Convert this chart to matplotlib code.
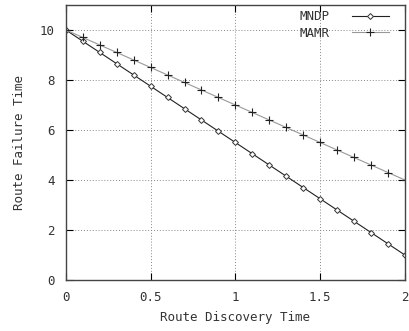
import matplotlib
matplotlib.use("Agg")
import matplotlib.pyplot as plt

# discovery time samples
x_vals = [0.0, 0.1, 0.2, 0.3, 0.4, 0.5, 0.6, 0.7, 0.8, 0.9, 1.0,
          1.1, 1.2, 1.3, 1.4, 1.5, 1.6, 1.7, 1.8, 1.9, 2.0]
mndp = [10.0, 9.55, 9.1, 8.65, 8.2, 7.75, 7.3, 6.85, 6.4, 5.95, 5.5,
        5.05, 4.6, 4.15, 3.7, 3.25, 2.8, 2.35, 1.9, 1.45, 1.0]
mamr = [10.0, 9.7, 9.4, 9.1, 8.8, 8.5, 8.2, 7.9, 7.6, 7.3, 7.0,
        6.7, 6.4, 6.1, 5.8, 5.5, 5.2, 4.9, 4.6, 4.3, 4.0]

x_ticks = [0, 0.5, 1, 1.5, 2]
x_tick_labels = ["0", "0.5", "1", "1.5", "2"]
y_ticks = [0, 2, 4, 6, 8, 10]

plt.rcParams['font.family'] = ['DejaVu Sans Mono']
txt = '#333333'

fig = plt.figure(figsize=(4.09, 3.31), dpi=100)
ax = fig.add_axes([0.161, 0.154, 0.829, 0.831])

ax.plot(x_vals, mndp, color='#222222', lw=0.8, marker='D', ms=3.0,
        mfc='white', mec='#333333', mew=0.7, label='MNDP')
ax.plot(x_vals, mamr, color='#999999', lw=0.8, marker='+', ms=5.5,
        mec='#222222', mew=0.8, label='MAMR')

ax.set_xlim(0, 2)
ax.set_ylim(0, 11)
ax.set_xticks(x_ticks)
ax.set_xticklabels(x_tick_labels)
ax.set_yticks(y_ticks)

ax.grid(True, linestyle=(0, (1, 2)), color='#888888', lw=0.7)
ax.tick_params(direction='in', top=True, right=True, length=5,
               labelsize=9, labelcolor=txt, pad=8)
for s in ax.spines.values():
    s.set_color('#444444')
    s.set_linewidth(1.0)

ax.set_xlabel("Route Discovery Time", fontsize=9, color=txt, labelpad=5)
ax.set_ylabel("Route Failure Time", fontsize=9, color=txt, labelpad=10)

leg = ax.legend(loc='upper right', bbox_to_anchor=(0.968, 1.0),
                frameon=False, markerfirst=False,
                fontsize=9, handlelength=3.0, labelspacing=0.3,
                borderaxespad=0.0, handletextpad=1.8)
for t in leg.get_texts():
    t.set_color(txt)

fig.savefig("out.png", dpi=100)
